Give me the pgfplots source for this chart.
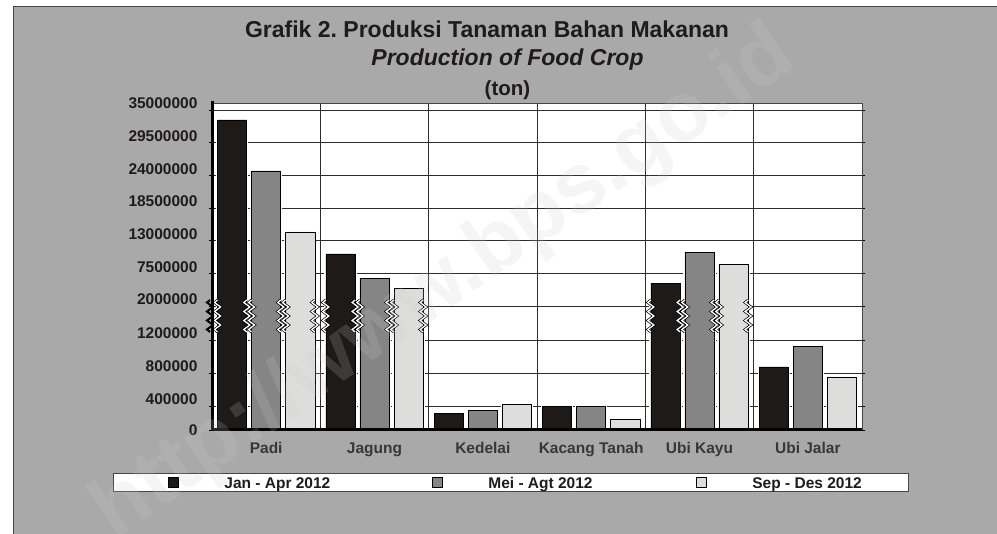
\documentclass[border=0pt]{standalone}
\usepackage{fontspec}
\setmainfont{Liberation Sans}
\usepackage{pgfplots}
\usepackage{pgfplotstable}
\pgfplotsset{compat=1.18}
\frenchspacing
\definecolor{bgc}{RGB}{169,169,169}
\definecolor{bordc}{RGB}{70,70,70}
\definecolor{gridc}{RGB}{45,45,45}
\definecolor{textc}{RGB}{30,27,28}
\definecolor{catc}{RGB}{55,55,55}
\definecolor{cA}{RGB}{30,26,23}
\definecolor{cB}{RGB}{133,133,133}
\definecolor{cC}{RGB}{221,221,219}
\definecolor{wmc}{RGB}{205,205,205}
\newcommand{\tf}{\fontsize{15.5}{18}\selectfont\bfseries}
\pgfplotsset{sqleg/.style={legend image code/.code={\draw[##1] (0pt,-3.5pt) rectangle (10pt,6.5pt);}}}
% values in tonnes (Jan-Apr, Mei-Agt, Sep-Des 2012)
\pgfplotstableread{
x a b c
0 33320000 24730000 14460000
1 10760000 6710000 5030000
2 280000 328000 415000
3 392000 390000 184000
4 5870000 11090000 9070000
5 873000 1127000 751000
}\datatab
\begin{document}
\begin{tikzpicture}
\path[use as bounding box] (0pt,0pt) rectangle (997pt,-534pt);
\fill[white] (0pt,0pt) rectangle (997pt,-534pt);
\fill[bgc] (13pt,-7pt) rectangle (997pt,-534pt);
\draw[bordc, line width=1pt] (13pt,-534pt) -- (13pt,-7pt) -- (997pt,-7pt);
\begin{axis}[
  at={(212pt,-430pt)}, anchor=south west, scale only axis,
  width=650pt, height=327pt,
  xmin=-0.5, xmax=5.5, ymin=0, ymax=327,
  clip=false,
  axis background/.style={fill=white},
  axis line style={draw=bordc, line width=0.8pt},
  xtick={0,1,2,3,4,5},
  xticklabels={Padi,Jagung,Kedelai,Kacang Tanah,Ubi Kayu,Ubi Jalar},
  xtick style={draw=none},
  minor xtick={0.5,1.5,2.5,3.5,4.5},
  minor tick length=0pt,
  xminorgrids,
  minor grid style={draw=gridc, line width=0.8pt},
  ytick={24,57,90,124,156.667,189.333,222,254.667,287.333,320},
  yticklabels={400000,800000,1200000,2000000,7500000,13000000,18500000,24000000,29500000,35000000},
  extra y ticks={0}, extra y tick labels={0},
  extra y tick style={grid=none, yticklabel style={yshift=-6.5pt}},
  ymajorgrids,
  major grid style={draw=gridc, line width=0.8pt},
  tick align=outside,
  major tick length=3pt,
  ytick style={draw=black, line width=0.8pt},
  yticklabel style={font=\tf, text=textc, xshift=-8pt, yshift=6.5pt},
  xticklabel style={font=\tf, text=catc, yshift=-6pt},
  legend columns=3,
  legend cell align=left,
  legend style={at={(axis description cs:-0.15231,-0.13150)}, anchor=north west,
    draw=bordc, line width=0.8pt, fill=white, inner xsep=53pt, inner ysep=2pt,
    font=\tf, text=textc, nodes={inner sep=0pt},
    /tikz/every odd column/.append style={column sep=45pt},
    /tikz/every even column/.append style={column sep=56pt}},
]
\addplot[ybar, sqleg, bar width=0.27, bar shift=-0.314, fill=cA, draw=black, line width=0.6pt,
  preaction={draw=white, line width=3pt}]
  table[x=x, y expr={ifthenelse(\thisrow{a}<=400000, \thisrow{a}*24/400000, ifthenelse(\thisrow{a}<=1600000, 24+(\thisrow{a}-400000)*33/400000, 124+(\thisrow{a}-2000000)*32.6667/5500000))}] {\datatab};
\addlegendentry{\makebox[150pt][l]{Jan - Apr 2012}}
\addplot[ybar, sqleg, bar width=0.27, bar shift=0, fill=cB, draw=black, line width=0.6pt,
  preaction={draw=white, line width=3pt}]
  table[x=x, y expr={ifthenelse(\thisrow{b}<=400000, \thisrow{b}*24/400000, ifthenelse(\thisrow{b}<=1600000, 24+(\thisrow{b}-400000)*33/400000, 124+(\thisrow{b}-2000000)*32.6667/5500000))}] {\datatab};
\addlegendentry{\makebox[150pt][l]{Mei - Agt 2012}}
\addplot[ybar, sqleg, bar width=0.27, bar shift=0.314, fill=cC, draw=black, line width=0.6pt,
  preaction={draw=white, line width=3pt}]
  table[x=x, y expr={ifthenelse(\thisrow{c}<=400000, \thisrow{c}*24/400000, ifthenelse(\thisrow{c}<=1600000, 24+(\thisrow{c}-400000)*33/400000, 124+(\thisrow{c}-2000000)*32.6667/5500000))}] {\datatab};
\addlegendentry{\makebox[103pt][l]{Sep - Des 2012}}
% axis break marks on the tall bars
\pgfplotsinvokeforeach{-0.449,-0.179,-0.135,0.135,0.179,0.449,0.551,0.821,0.865,1.135,1.179,1.449,3.551,3.821,3.865,4.135,4.179,4.449}{
  \draw[black, line width=0.7pt, double=white, double distance=1.3pt, line join=miter]
    (axis cs:#1,130) -- ++(-3pt,-2.5pt) -- ++(6pt,-4.5pt) -- ++(-6pt,-4.5pt) -- ++(6pt,-4.5pt)
    -- ++(-6pt,-4.5pt) -- ++(6pt,-4.5pt) -- ++(-6pt,-4.5pt) -- ++(3pt,-2.5pt);
}
\draw[black, line width=3pt] (axis cs:-0.5,0) -- (axis cs:-0.5,329);
\draw[black, line width=3pt] (axis cs:-0.5,0) -- (axis cs:5.5,0);
\draw[black, line width=2pt, line join=miter]
    (axis cs:-0.5,130) ++(-2pt,0pt) -- ++(-3pt,-2.5pt) -- ++(6pt,-4.5pt) -- ++(-6pt,-4.5pt) -- ++(6pt,-4.5pt)
    -- ++(-6pt,-4.5pt) -- ++(6pt,-4.5pt) -- ++(-6pt,-4.5pt) -- ++(3pt,-2.5pt);
\end{axis}
\node[anchor=base, font=\fontsize{23}{27}\selectfont\bfseries, text=textc] at (487pt,-37.5pt) {Grafik 2. Produksi Tanaman Bahan Makanan};
\node[anchor=base, font=\fontsize{23}{27}\selectfont\bfseries\itshape, text=textc] at (507.5pt,-65.5pt) {Production of Food Crop};
\node[anchor=base, font=\fontsize{20.5}{25}\selectfont\bfseries, text=textc] at (507.5pt,-96pt) {(ton)};
\node[rotate=34.8, font=\fontsize{85}{90}\selectfont\bfseries, text=wmc, opacity=0.18] at (445pt,-285pt) {http://www.bps.go.id};
\end{tikzpicture}
\end{document}
